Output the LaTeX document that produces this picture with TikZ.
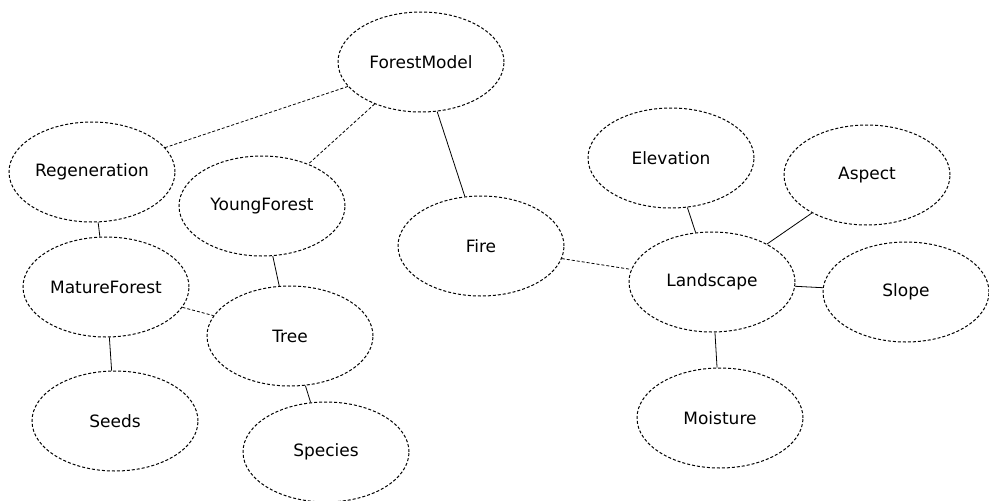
\documentclass[tikz,border=0pt]{standalone}
\usepackage{fontspec}
\setmainfont{DejaVu Sans}
\usetikzlibrary{shapes.geometric}

\tikzset{
  concept/.style={ellipse, draw, dash pattern=on 3pt off 2pt, line width=1pt,
    minimum width=166pt, minimum height=100pt, inner sep=0pt,
    font=\fontsize{17}{19}\selectfont},
  link/.style={line width=0.8pt},
  dlink/.style={line width=0.8pt, dash pattern=on 3pt off 2pt}
}

\begin{document}
\begin{tikzpicture}[x=1pt,y=-1pt]
% page frame
\useasboundingbox (0,0) rectangle (989,501);
% concept nodes
\node[concept] (forestmodel) at (421,62) {ForestModel};
\node[concept] (regeneration) at (92,172) {Regeneration};
\node[concept] (youngforest) at (262,206) {YoungForest};
\node[concept] (matureforest) at (106,287) {MatureForest};
\node[concept] (tree) at (290,336) {Tree};
\node[concept] (seeds) at (115,421) {Seeds};
\node[concept] (species) at (326,452) {Species};
\node[concept] (fire) at (481,246) {Fire};
\node[concept] (elevation) at (671,158) {Elevation};
\node[concept] (aspect) at (867,175) {Aspect};
\node[concept] (landscape) at (712,282) {Landscape};
\node[concept] (slope) at (906,292) {Slope};
\node[concept] (moisture) at (720,418) {Moisture};
% links
\draw[dlink] (forestmodel) -- (regeneration);
\draw[dlink] (forestmodel) -- (youngforest);
\draw[link] (forestmodel) -- (fire);
\draw[link] (regeneration) -- (matureforest);
\draw[link] (youngforest) -- (tree);
\draw[dlink] (matureforest) -- (tree);
\draw[link] (matureforest) -- (seeds);
\draw[link] (tree) -- (species);
\draw[dlink] (fire) -- (landscape);
\draw[link] (elevation) -- (landscape);
\draw[link] (aspect) -- (landscape);
\draw[link] (landscape) -- (slope);
\draw[link] (landscape) -- (moisture);
\end{tikzpicture}
\end{document}
